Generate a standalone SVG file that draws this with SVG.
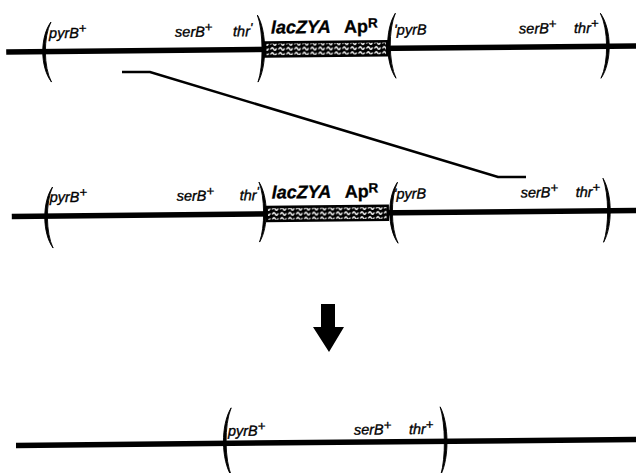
<svg xmlns="http://www.w3.org/2000/svg" width="636" height="473" viewBox="0 0 636 473">
<style>
.ln{stroke:#000;stroke-width:5.5;fill:none}
.par{fill:#000;stroke:#000;stroke-width:0.9}
.box{fill:url(#stip);stroke:#000;stroke-width:2.4}
.g{font-family:"Liberation Sans",Arial,sans-serif;font-style:italic;font-size:14.5px;fill:#000;stroke:#000;stroke-width:0.35}
.b{font-family:"Liberation Sans",Arial,sans-serif;font-weight:bold;font-size:18px;fill:#000;stroke:#000;stroke-width:0.3}
.sup{font-size:13px}
.cx{stroke:#000;stroke-width:2.5;fill:none}
</style>
<defs>
<pattern id="stip" patternUnits="userSpaceOnUse" width="8" height="5" x="0" y="0.5">
<rect width="8" height="5" fill="#000"/>
<path d="M0.8,3 q1.3,-2.6 2.6,0 t2.6,0" stroke="#fff" stroke-width="1.5" fill="none" stroke-linecap="round"/>
</pattern>
</defs>
<g transform="rotate(-0.55 318 236)">
<g id="row1">
<path class="ln" d="M8,49 H650"/>
<rect class="box" x="267" y="42" width="122" height="14"/>
<path class="par" d="M53,19.5 C41.7,34.5 41.7,64.5 53,79.5 C45.2,64.5 45.2,34.5 53,19.5Z"/>
<path class="par" d="M259.5,14.5 C268.8,30.5 268.8,65.5 259.5,81.5 C265.3,65.5 265.3,30.5 259.5,14.5Z"/>
<path class="par" d="M397.5,14 C386.8,30 386.8,63 397.5,79 C390.3,63 390.3,30 397.5,14Z"/>
<path class="par" d="M602.5,16 C613.9,32 613.9,65 602.5,81 C610.4,65 610.4,32 602.5,16Z"/>
<text class="g" x="51" y="35.5">pyrB<tspan class="sup" dy="-5">+</tspan></text>
<text class="g" x="177" y="35.5">serB<tspan class="sup" dy="-5">+</tspan></text>
<text class="g" x="235" y="35.5">thr<tspan class="sup" dy="-4">'</tspan></text>
<text class="b" x="273" y="33" font-style="italic">lacZYA</text>
<text class="b" x="346" y="33" font-size="16">Ap<tspan font-size="13.5" dy="-5">R</tspan></text>
<text class="g" x="396" y="35.5">'pyrB</text>
<text class="g" x="521" y="35.5">serB<tspan class="sup" dy="-5">+</tspan></text>
<text class="g" x="576" y="35.5">thr<tspan class="sup" dy="-5">+</tspan></text>
</g>
<g id="row2">
<path class="ln" d="M12,213.5 H650"/>
<rect class="box" x="267" y="206.5" width="121" height="14"/>
<path class="par" d="M53,184.5 C42.3,199.5 42.3,230.5 53,245.5 C45.8,230.5 45.8,199.5 53,184.5Z"/>
<path class="par" d="M259.5,181.5 C268.8,196.5 268.8,226.5 259.5,241.5 C265.3,226.5 265.3,196.5 259.5,181.5Z"/>
<path class="par" d="M398,183 C387.3,198 387.3,229 398,244 C390.8,229 390.8,198 398,183Z"/>
<path class="par" d="M603.5,181 C612.8,197 612.8,229 603.5,245 C609.3,229 609.3,197 603.5,181Z"/>
<text class="g" x="50" y="199.5">pyrB<tspan class="sup" dy="-5">+</tspan></text>
<text class="g" x="177" y="199.5">serB<tspan class="sup" dy="-5">+</tspan></text>
<text class="g" x="240" y="199.5">thr<tspan class="sup" dy="-4">'</tspan></text>
<text class="b" x="272" y="198" font-style="italic">lacZYA</text>
<text class="b" x="345" y="198" font-size="16">Ap<tspan font-size="13.5" dy="-5">R</tspan></text>
<text class="g" x="394" y="199.5">'pyrB</text>
<text class="g" x="521" y="199.5">serB<tspan class="sup" dy="-5">+</tspan></text>
<text class="g" x="576" y="199.5">thr<tspan class="sup" dy="-5">+</tspan></text>
</g>
<g id="row3">
<path class="ln" d="M14,442.5 H650"/>
<path class="par" d="M229.5,407 C218.8,424 218.8,459 229.5,476 C222.3,459 222.3,424 229.5,407Z"/>
<path class="par" d="M438.5,408 C447.2,425 447.2,459 438.5,476 C443.7,459 443.7,425 438.5,408Z"/>
<text class="g" x="226" y="435">pyrB<tspan class="sup" dy="-5">+</tspan></text>
<text class="g" x="352" y="435">serB<tspan class="sup" dy="-5">+</tspan></text>
<text class="g" x="407" y="435">thr<tspan class="sup" dy="-5">+</tspan></text>
</g>
</g>
<g id="connectors">
<polyline class="cx" points="122,72 150,72 498,177 526,177"/>
</g>
<g id="arrow">
<polygon points="321,304 335,304 335,327 344,327 329,352 313,327 321,327" fill="#000"/>
</g>
</svg>
